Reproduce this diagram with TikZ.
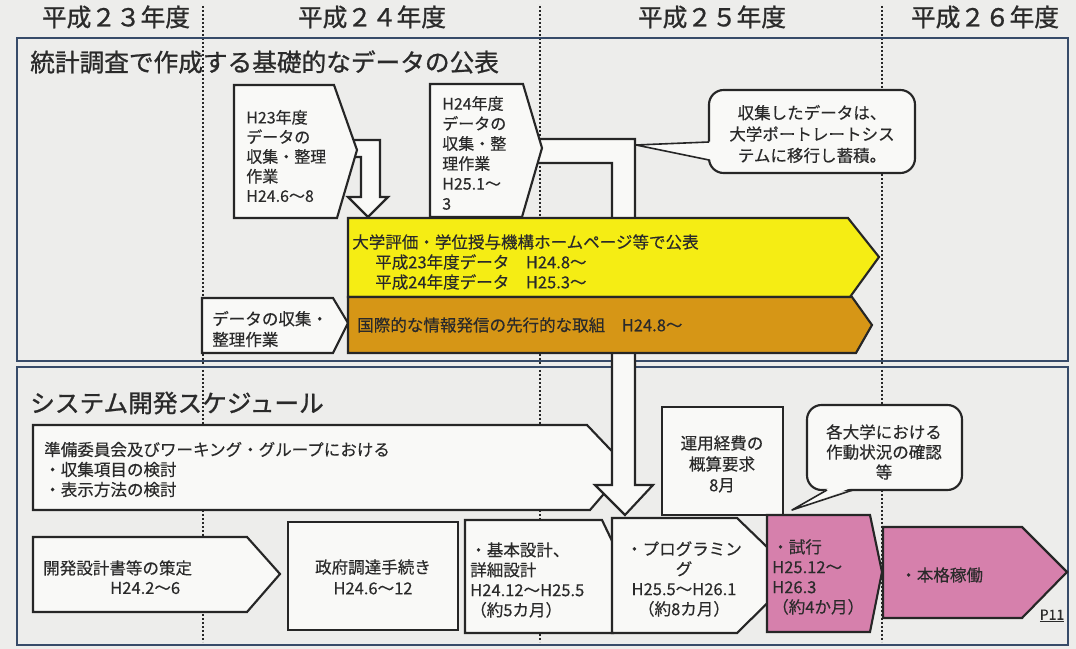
\documentclass[tikz,border=0pt]{standalone}
\usepackage{fontspec}
\setmainfont{Noto Sans CJK JP}[FakeBold=0.3]
\newfontfamily\headfont{Noto Sans CJK JP}[FakeBold=1.0]
\definecolor{bg}{RGB}{237,237,235}
\definecolor{boxfill}{RGB}{249,249,247}
\definecolor{sect}{RGB}{55,75,105}
\definecolor{ln}{RGB}{38,38,38}
\definecolor{yel}{RGB}{245,237,20}
\definecolor{org}{RGB}{214,150,22}
\definecolor{pnk}{RGB}{214,128,172}
\definecolor{txt}{RGB}{42,42,42}
\begin{document}
\begin{tikzpicture}[x=0.75pt,y=-0.75pt,
  shp/.style={draw=ln, line width=1.6pt, fill=boxfill, line join=miter},
  tx/.style={inner sep=0, text=txt, font=\fontsize{12.4}{15}\selectfont},
  yr/.style={inner sep=0, text=txt, font=\headfont\fontsize{18.5}{20}\selectfont},
  dots/.style={draw=ln, line width=1.6pt, dash pattern=on 1.6pt off 1.4pt},
  sectbox/.style={draw=sect, line width=1.7pt},
  ptr/.style={draw=ln, line width=1.2pt, line join=round}]
\useasboundingbox (0,0) rectangle (1076,649);
\fill[bg] (0,0) rectangle (1076,649);

% dotted year separators
\draw[dots] (203,6) -- (203,642);
\draw[dots] (540,6) -- (540,642);
\draw[dots] (882,6) -- (882,642);

% sections
\draw[sectbox] (17,38) rectangle (1068,361);
\draw[sectbox] (17,367) rectangle (1068,645);

% year labels
\node[yr] (y23) at (116,17) {平成２３年度};
\node[yr] (y24) at (372,17) {平成２４年度};
\node[yr] (y25) at (712,17) {平成２５年度};
\node[yr] (y26) at (985,17) {平成２６年度};

% titles
\node[yr, anchor=west] (t1) at (30,62) {統計調査で作成する基礎的なデータの公表};
\node[yr, anchor=west] (t2) at (30,403) {システム開発スケジュール};

% preparation box
\draw[shp] (33,425) -- (587,425) -- (627,467) -- (590,510) -- (33,510) -- cycle;
\node[tx, anchor=west, align=left] (prep) at (44,469.5) {準備委員会及びワーキング・グループにおける\\・収集項目の検討\\・表示方法の検討};

% big hollow arrow from H24 box
\draw[shp] (530,139) -- (635,139) -- (635,485) -- (653,485) -- (625,515) -- (595,485) -- (612,485) -- (612,163) -- (530,163) -- cycle;

% small hollow arrow from H23 box
\draw[shp] (345,140) -- (380,140) -- (380,197) -- (388,197) -- (368,217) -- (348,197) -- (361,197) -- (361,157) -- (345,157) -- cycle;

% H23 box
\draw[shp] (234,85) -- (334,85) -- (357,150) -- (337,218) -- (234,218) -- cycle;
\node[tx, anchor=west, align=left, font=\fontsize{12}{14.7}\selectfont] (h23) at (246,156) {H23年度\\データの\\収集・整理\\作業\\H24.6～8};

% H24 box
\draw[shp] (430,84) -- (523,84) -- (542,148) -- (522,217) -- (430,217) -- cycle;
\node[tx, anchor=west, align=left, font=\fontsize{12}{15}\selectfont] (h24) at (442,153) {H24年度\\データの\\収集・整\\理作業\\H25.1～\\3};

% data collection box
\draw[shp] (202,298) -- (333,298) -- (348,323) -- (333,353) -- (202,353) -- cycle;
\node[tx, anchor=west, align=left, font=\fontsize{12.4}{15.5}\selectfont] (coll) at (212,329) {データの収集・\\整理作業};

% yellow and orange
\draw[shp, fill=yel] (348,218) -- (848,218) -- (879,257) -- (850,297) -- (348,297) -- cycle;
\node[tx, anchor=west] (pub) at (352,242) {大学評価・学位授与機構ホームページ等で公表};
\node[tx, anchor=west, align=left] (pubd) at (375,272) {平成23年度データ　H24.8～\\平成24年度データ　H25.3～};
\draw[shp, fill=org] (348,297) -- (852,297) -- (872,325) -- (856,353) -- (348,353) -- cycle;
\node[tx, anchor=west] (intl) at (357,325) {国際的な情報発信の先行的な取組　H24.8～};

% callout 1
\draw[shp, rounded corners=11] (709,90) rectangle (915,173);
\fill[boxfill] (711,141.5) -- (636,145) -- (711,159.5) -- cycle;
\draw[ptr] (709,142) -- (636,145) -- (709,160);
\node[tx, align=center, font=\fontsize{12.4}{16}\selectfont] (note1) at (812,134) {収集したデータは、\\大学ポートレートシス\\テムに移行し蓄積。};

% budget box
\draw[shp] (662,407) rectangle (783,515);
\node[tx, align=center, font=\fontsize{12.4}{15.7}\selectfont] (budget) at (722,464) {運用経費の\\概算要求\\8月};

% callout 2
\draw[shp, rounded corners=11] (807,405) rectangle (962,490);
\fill[boxfill] (829,488) -- (792,510) -- (851,488) -- cycle;
\draw[ptr] (827,490) -- (792,510) -- (853,490);
\node[tx, align=center] (note2) at (884,452) {各大学における\\作動状況の確認\\等};

% bottom row
\draw[shp] (33,537) -- (247,537) -- (280,574) -- (247,612) -- (33,612) -- cycle;
\node[tx, anchor=west] (dev1) at (43,568) {開発設計書等の策定};
\node[tx, anchor=west] (dev2) at (110,588) {H24.2～6};

\draw[shp] (288,522) rectangle (458,630);
\node[tx, align=center, font=\fontsize{12.4}{15.7}\selectfont] (gov) at (373,577) {政府調達手続き\\H24.6～12};

\draw[shp] (465,520) -- (602,520) -- (613,543) -- (613,633) -- (465,633) -- cycle;
\node[tx, anchor=west, align=left] (basic) at (470,580) {・基本設計、\\詳細設計\\H24.12～H25.5\\（約5カ月）};

\draw[shp] (612,518) -- (737,518) -- (796,575) -- (737,633) -- (612,633) -- cycle;
\node[tx, align=center] (prog) at (684,579) {・プログラミン\\グ\\H25.5～H26.1\\（約8カ月）};

\draw[shp, fill=pnk] (767,515) -- (870,515) -- (882,572) -- (870,632) -- (767,632) -- cycle;
\node[tx, anchor=west, align=left] (trial) at (772,577) {・試行\\H25.12～\\H26.3\\（約4か月）};

\draw[shp, fill=pnk] (883,527) -- (1022,527) -- (1067,572) -- (1022,618) -- (883,618) -- cycle;
\node[tx, anchor=west] (oper) at (900,575) {・本格稼働};

\node[inner sep=0, text=txt, font=\fontsize{10.5}{12}\selectfont] (page) at (1052,616) {\underline{P11}};
\end{tikzpicture}
\end{document}
